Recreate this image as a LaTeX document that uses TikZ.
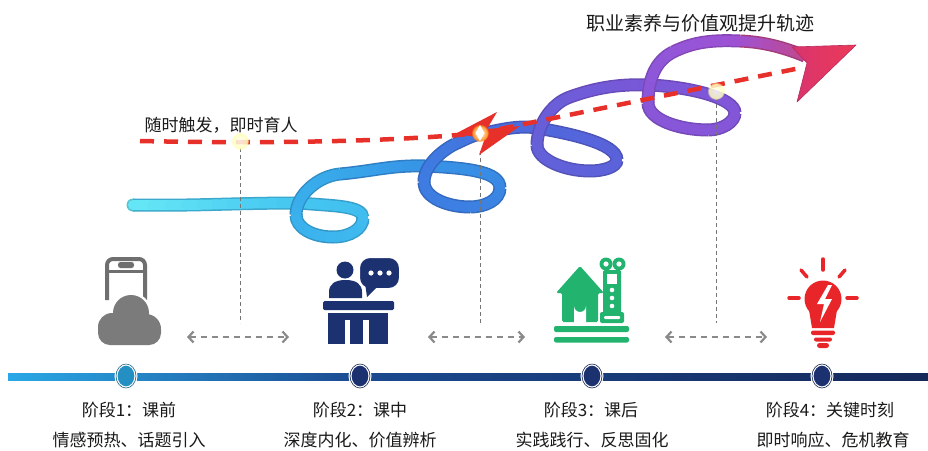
\documentclass[tikz,border=0pt]{standalone}
\usepackage{fontspec}
\newfontfamily\cjk{Noto Sans CJK SC}
\usetikzlibrary{arrows.meta,fadings}

% ribbon colours, from the cyan tail to the purple head
\definecolor{rb0}{HTML}{66E8F6}
\definecolor{rb1}{HTML}{45C6F0}
\definecolor{rb2}{HTML}{40BDEF}
\definecolor{rb3}{HTML}{3DB6EE}
\definecolor{rb4}{HTML}{3AB0EC}
\definecolor{rb5}{HTML}{38A8EA}
\definecolor{rb6}{HTML}{3794E6}
\definecolor{rb7}{HTML}{3A88E4}
\definecolor{rb8}{HTML}{3C80E2}
\definecolor{rb9}{HTML}{3E7CE2}
\definecolor{rb10}{HTML}{4078E0}
\definecolor{rb11}{HTML}{4672DE}
\definecolor{rb12}{HTML}{5068DC}
\definecolor{rb13}{HTML}{5A62DA}
\definecolor{rb14}{HTML}{5E62DA}
\definecolor{rb15}{HTML}{6460D8}
\definecolor{rb16}{HTML}{6E5CD8}
\definecolor{rb17}{HTML}{7A58D8}
\definecolor{rb18}{HTML}{8256D8}
\definecolor{rb19}{HTML}{8656D8}
\definecolor{rb20}{HTML}{8A56D8}
\definecolor{rb21}{HTML}{9256D8}
\definecolor{rb22}{HTML}{9E52D4}
\definecolor{rb23}{HTML}{C04890}

\definecolor{tlA}{HTML}{2AA8E6}
\definecolor{tlB}{HTML}{1B4A90}
\definecolor{tlC}{HTML}{15285A}
\definecolor{navy}{HTML}{1C3170}
\definecolor{stone}{HTML}{7B7B7B}
\definecolor{leaf}{HTML}{22B36E}
\definecolor{alarm}{HTML}{E8262A}
\definecolor{flame}{HTML}{E8302A}
\definecolor{guide}{HTML}{8A8A8A}
\definecolor{ink}{HTML}{1A1A1A}
\definecolor{headA}{HTML}{D8346E}
\definecolor{headB}{HTML}{EC3A58}

\tikzset{
  ribedge/.style={line width=13pt,line cap=butt},
  ribfill/.style={line width=10pt,line cap=round},
  reddash/.style={draw=flame,line width=4.5pt,dash pattern=on 14pt off 10pt},
  guideline/.style={draw=guide!85!black,line width=0.8pt,dash pattern=on 4pt off 3pt},
  twoway/.style={draw=guide,line width=2.2pt,dash pattern=on 6pt off 5pt,
    {Straight Barb[length=5pt,width=11pt]}-{Straight Barb[length=5pt,width=11pt]}},
  ttl/.style={font=\cjk\fontsize{19}{22}\selectfont,text=ink,inner sep=0pt},
  lbl/.style={font=\cjk\fontsize{17}{20}\selectfont,text=ink,inner sep=0pt},
  stagedot/.style={draw=white,line width=3pt},
  glint/.style={inner color=white,outer color=yellow!35,opacity=0.85,
    path fading=circle with fuzzy edge 20 percent},
}

% one piece of the ribbon: start, control 1, control 2, end, colour at start, colour at end
\newcommand\rseg[6]{%
  \draw[ribedge,draw=#6!85!black] #1 .. controls #2 and #3 .. #4;
  \path #1 .. controls #2 and #3 .. #4
    coordinate[pos=0] (rq0) coordinate[pos=0.1] (rq1) coordinate[pos=0.2] (rq2)
    coordinate[pos=0.3] (rq3) coordinate[pos=0.4] (rq4) coordinate[pos=0.5] (rq5)
    coordinate[pos=0.6] (rq6) coordinate[pos=0.7] (rq7) coordinate[pos=0.8] (rq8)
    coordinate[pos=0.9] (rq9) coordinate[pos=1] (rq10);
  \foreach \k [evaluate=\k as \pc using {int(105-10*\k)},
               evaluate=\k as \j using {int(\k-1)}] in {1,...,10}
    \draw[ribfill,draw=#5!\pc!#6] (rq\j) -- (rq\k);
}

\begin{document}
\begin{tikzpicture}[x=1pt,y=-1pt]
\useasboundingbox (0,0) rectangle (928,450);
\fill[white] (0,0) rectangle (928,450);

% ---------- titles ----------
\node[ttl] (title) at (700,23) {职业素养与价值观提升轨迹};
\node[lbl] (slogan) at (221,125) {随时触发，即时育人};

% ---------- timeline ----------
\shade[left color=tlA,right color=tlB] (8,373) rectangle (360,380);
\shade[left color=tlB,right color=tlC] (360,373) rectangle (928,380);
\filldraw[stagedot,fill=tlA!85!black] (126,376) ellipse (10 and 12);
\filldraw[stagedot,fill=navy] (360,376) ellipse (10 and 12);
\filldraw[stagedot,fill=navy] (592,376) ellipse (10 and 12);
\filldraw[stagedot,fill=navy] (822,376) ellipse (10 and 12);
\draw[tlA!60!black,line width=0.6pt] (126,376) ellipse (10 and 12);
\draw[navy!70!black,line width=0.6pt] (360,376) ellipse (10 and 12);
\draw[navy!70!black,line width=0.6pt] (592,376) ellipse (10 and 12);
\draw[navy!70!black,line width=0.6pt] (822,376) ellipse (10 and 12);

% ---------- stage labels ----------
\node[lbl] (s1a) at (129,410) {阶段1：课前};
\node[lbl] (s1b) at (129,440) {情感预热、话题引入};
\node[lbl] (s2a) at (360,410) {阶段2：课中};
\node[lbl] (s2b) at (360,440) {深度内化、价值辨析};
\node[lbl] (s3a) at (591,410) {阶段3：课后};
\node[lbl] (s3b) at (592,440) {实践践行、反思固化};
\node[lbl] (s4a) at (830,410) {阶段4：关键时刻};
\node[lbl] (s4b) at (833,440) {即时响应、危机教育};

% ---------- icon 1: phone and cloud ----------
\draw[stone!90!black,line width=4pt,rounded corners=6pt] (107,300) -- (107,259) -- (145,259) -- (145,300);
\draw[stone!90!black,line width=3pt] (107,271) -- (145,271);
\fill[stone!90!black,rounded corners=2.5pt] (118,262) rectangle (134,268);
\begin{scope}[draw=white,line width=5pt]
  \draw (131,313) circle (18);
  \draw (112,327) circle (14);
  \draw (146,329) circle (15);
  \draw[rounded corners=12pt] (98,318) rectangle (161,345);
\end{scope}
\begin{scope}[fill=stone]
  \fill (131,313) circle (18);
  \fill (112,327) circle (14);
  \fill (146,329) circle (15);
  \fill[rounded corners=12pt] (98,318) rectangle (161,345);
\end{scope}

% ---------- icon 2: teacher at a lectern ----------
\fill[navy] (345,270) circle (8.5);
\fill[navy] (329,298) -- (329,292) .. controls (329,284) and (335,280) .. (345.5,280)
  .. controls (356,280) and (362,284) .. (362,292) -- (362,298) -- cycle;
\filldraw[navy,draw=white,line width=2pt,rounded corners=11pt] (359,257) rectangle (400,289);
\fill[navy] (365,283) -- (379,285) -- (367,297) -- cycle;
\foreach \dx in {371,380,389} \fill[white] (\dx,273) circle (2.6);
\fill[navy,rounded corners=1.5pt] (323,301) rectangle (394,310);
\fill[navy] (328,313) rectangle (388,344);
\fill[white] (344.5,320) rectangle (350,345);
\fill[white] (363,320) rectangle (368.5,345);

% ---------- icon 3: house and tower ----------
\fill[leaf,rounded corners=1.5pt] (556,293) -- (580,266) -- (604,293) -- (598,293) -- (598,322)
  -- (562,322) -- (562,293) -- cycle;
\fill[white] (574,323) -- (574,306) arc (180:0:6) -- (586,323) -- cycle;
\fill[leaf] (606,264) circle (6.5);
\fill[leaf] (619,264) circle (6.5);
\fill[white] (606,264) circle (2.6);
\fill[white] (619,264) circle (2.6);
\fill[leaf,rounded corners=1.5pt] (603,270) rectangle (621,313);
\fill[white] (607,274) rectangle (617,284);
\foreach \yy in {290,298,306} \fill[white] (612,\yy) circle (2.3);
\fill[leaf,rounded corners=2pt] (600,312) rectangle (624,323);
\fill[white,rounded corners=1pt] (604,316) rectangle (620,319);
\fill[leaf,rounded corners=2pt] (554,326) rectangle (629,332);
\fill[leaf,rounded corners=2pt] (554,337) rectangle (629,342.5);

% ---------- icon 4: light bulb ----------
\begin{scope}[draw=alarm,line width=3.5pt,line cap=round]
  \draw (823,259) -- (823,270);
  \draw (801,270) -- (807,277);
  \draw (845,270) -- (839,277);
  \draw (789,298) -- (799,298);
  \draw (847,298) -- (857,298);
\end{scope}
\fill[alarm] (823,299) circle (18.5);
\fill[alarm] (809,310) -- (837,310) -- (834,328) -- (812,328) -- cycle;
\fill[alarm,rounded corners=2pt] (811,330.5) rectangle (835,335);
\fill[alarm,rounded corners=2pt] (814,337.5) rectangle (832,341.5);
\fill[alarm,rounded corners=2.5pt] (817,343) rectangle (829,348);
\fill[white] (828,285) -- (817,304) -- (824,304) -- (820,322) -- (832,299) -- (825,299) -- (832,285) -- cycle;

% ---------- rising ribbon ----------
\fill[rb0!85!black] (133,205) circle (6.5);
\rseg{(133,205)}{(200,206)}{(233,203)}{(300,203)}{rb0}{rb1}
\rseg{(300,203)}{(330,206)}{(363,205)}{(363,218)}{rb1}{rb2}
\rseg{(363,218)}{(363,229)}{(350,237)}{(333,237)}{rb2}{rb3}
\rseg{(333,237)}{(313,237)}{(296,228)}{(296,215)}{rb3}{rb4}
\rseg{(296,215)}{(296,195)}{(318,176)}{(340,174)}{rb4}{rb5}
\rseg{(340,174)}{(374,171)}{(391,165)}{(425,166)}{rb5}{rb6}
\rseg{(425,166)}{(470,168)}{(500,172)}{(500,188)}{rb6}{rb7}
\rseg{(500,188)}{(500,200)}{(485,207)}{(470,207)}{rb7}{rb8}
\rseg{(470,207)}{(448,207)}{(424,198)}{(424,182)}{rb8}{rb9}
\rseg{(424,182)}{(424,166)}{(441,151)}{(455,144)}{rb9}{rb10}
\rseg{(455,144)}{(464,140)}{(471,136)}{(480,134)}{rb10}{rb11}
\rseg{(480,134)}{(500,130)}{(517,125)}{(537,128)}{rb11}{rb12}
\rseg{(537,128)}{(567,133)}{(617,143)}{(617,160)}{rb12}{rb13}
\rseg{(617,160)}{(617,167)}{(603,171)}{(590,171)}{rb13}{rb14}
\rseg{(590,171)}{(565,171)}{(537,160)}{(537,145)}{rb14}{rb15}
\rseg{(537,145)}{(537,125)}{(552,103)}{(570,97)}{rb15}{rb16}
\rseg{(570,97)}{(600,86)}{(625,84)}{(650,85)}{rb16}{rb17}
\rseg{(650,85)}{(690,87)}{(735,98)}{(735,113)}{rb17}{rb18}
\rseg{(735,113)}{(735,122)}{(722,130)}{(708,130)}{rb18}{rb19}
\rseg{(708,130)}{(680,130)}{(648,120)}{(648,103)}{rb19}{rb20}
\rseg{(648,103)}{(648,80)}{(655,61)}{(673,52)}{rb20}{rb21}
\rseg{(673,52)}{(695,41)}{(715,40)}{(740,41)}{rb21}{rb22}
\rseg{(740,41)}{(765,42)}{(785,48)}{(805,56)}{rb22}{rb23}

% ---------- anchor points ----------
\coordinate (g1) at (240,141);
\coordinate (g2) at (480,133);
\coordinate (g3) at (716,91);
\coordinate (rd0) at (140,141);
\coordinate (rd2) at (805,67);
\coordinate (v1) at (240,323);
\coordinate (v2) at (480,323);
\coordinate (v3) at (716,323);
\coordinate (a1l) at (187,337); \coordinate (a1r) at (289,337);
\coordinate (a2l) at (428,337); \coordinate (a2r) at (525,337);
\coordinate (a3l) at (665,337); \coordinate (a3r) at (767,337);

% drop lines and two-way arrows
\draw[guideline] ([yshift=-7pt]g1) -- (v1);
\draw[guideline] ([yshift=-18pt]g2) -- (v2);
\draw[guideline] ([yshift=-6pt]g3) -- (v3);
\draw[twoway] (a1l) -- (a1r);
\draw[twoway] (a2l) -- (a2r);
\draw[twoway] (a3l) -- (a3r);

% red dashed trigger line
\draw[reddash] (rd0) .. controls (280,144) and (400,141) .. (g2) -- (rd2);

% lightning break
\fill[flame] (497,112) -- (487,129) -- (520,126) -- (479,155) -- (485,138) -- (455,134) -- cycle;
\shade[inner color=white,outer color=orange,path fading=circle with fuzzy edge 20 percent] (g2) circle (9);
\fill[white] (480,125) -- (484.5,133) -- (480,141) -- (475.5,133) -- cycle;

% glints
\shade[glint] (g1) circle (9);
\shade[glint] (g3) circle (9);

% ribbon arrowhead
\shade[left color=headA,right color=headB,draw=headA!85!black,line width=0.6pt,line join=round]
  (792,47) -- (856,45) -- (797,102) -- (807,63) -- cycle;
\end{tikzpicture}
\end{document}
